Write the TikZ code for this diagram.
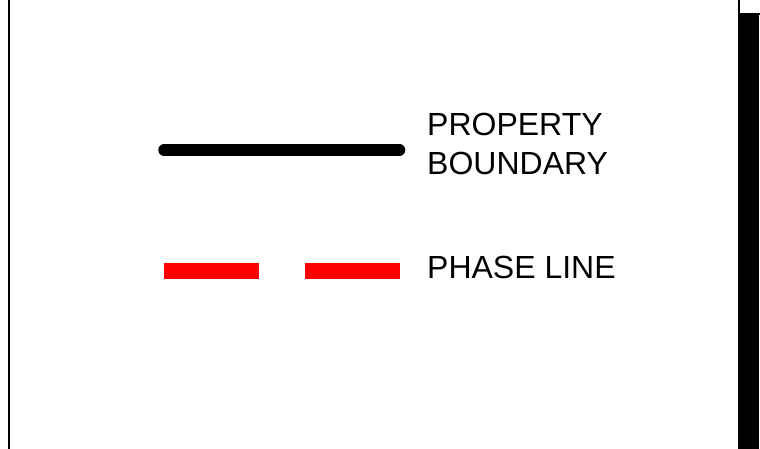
\documentclass[tikz,border=0pt]{standalone}
\usepackage{fontspec}
\setmainfont{Liberation Sans}
\begin{document}
\begin{tikzpicture}[x=1pt,y=-1pt,
  lbl/.style={anchor=base west,inner sep=0pt,font=\fontsize{32}{38}\selectfont},
  frame/.style={draw=black,line width=2pt}]
\useasboundingbox (0,0) rectangle (760,449);
% left border
\coordinate (lt) at (9,0);
\coordinate (lb) at (9,449);
\draw[frame] (lt) -- (lb);
% right border
\coordinate (rt) at (738.8,0);
\coordinate (rc) at (738.8,14);
\coordinate (re) at (760,14);
\draw[line width=1.8pt] (rt) -- (rc);
\draw[line width=1.5pt] (rc) -- (re);
\fill[black] (737.8,13.5) rectangle (758.8,449);
% property boundary symbol
\coordinate (pb1) at (164,150);
\coordinate (pb2) at (399.5,150);
\draw[line width=11.5pt,line cap=round] (pb1) -- (pb2);
% phase line symbol
\coordinate (ph1) at (164,271.2);
\coordinate (ph2) at (258.7,271.2);
\coordinate (ph3) at (305.3,271.2);
\coordinate (ph4) at (400.3,271.2);
\draw[red,line width=15.7pt] (ph1) -- (ph2);
\draw[red,line width=15.7pt] (ph3) -- (ph4);
% labels
\node[lbl] (t1) at (427,136) {PROPERTY};
\node[lbl] (t2) at (427,174.3) {BOUNDARY};
\node[lbl] (t3) at (427,278.3) {PHASE LINE};
\end{tikzpicture}
\end{document}
